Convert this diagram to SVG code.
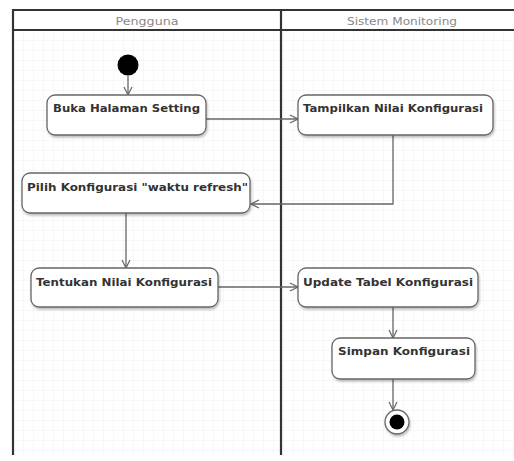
<svg xmlns="http://www.w3.org/2000/svg" width="514" height="461" viewBox="0 0 514 461">
  <defs>
    <pattern id="grid" width="10" height="10" patternUnits="userSpaceOnUse" x="3" y="0">
      <path d="M10 0 L0 0 0 10" fill="none" stroke="#efefef" stroke-width="1"/>
    </pattern>
    <marker id="open" markerWidth="10" markerHeight="10" refX="9" refY="5" orient="auto" markerUnits="userSpaceOnUse">
      <path d="M1 1 L9 5 L1 9" fill="none" stroke="#666" stroke-width="1.2"/>
    </marker>
    <filter id="shadow" x="-10%" y="-10%" width="120%" height="130%">
      <feDropShadow dx="1" dy="2" stdDeviation="1.2" flood-color="#000" flood-opacity="0.25"/>
    </filter>
  </defs>
  <style>
    .lane { fill: none; stroke: #333; stroke-width: 2.2; }
    .hdr { font-family: "DejaVu Sans", "Liberation Sans", sans-serif; font-size: 11px; fill: #888; text-anchor: middle; }
    .act rect { fill: #fff; stroke: #666; stroke-width: 1.3; filter: url(#shadow); }
    .act text { font-family: "DejaVu Sans", "Liberation Sans", sans-serif; font-size: 11px; font-weight: bold; fill: #333; text-anchor: middle; }
    .edge { fill: none; stroke: #666; stroke-width: 1.3; marker-end: url(#open); }
  </style>

  <rect width="514" height="461" fill="#fff"/>
  <rect x="13" y="30" width="501" height="425" fill="url(#grid)"/>

  <!-- swimlanes -->
  <g id="lanes">
    <path class="lane" d="M514 10 H13 V455"/>
    <path class="lane" d="M13 30 H514"/>
    <path class="lane" d="M281 10 V455"/>
    <text class="hdr" x="147" y="25" textLength="63" lengthAdjust="spacingAndGlyphs">Pengguna</text>
    <text class="hdr" x="402" y="25" textLength="110" lengthAdjust="spacingAndGlyphs">Sistem Monitoring</text>
  </g>

  <!-- connectors -->
  <g id="connectors">
    <path class="edge" d="M128 76 V95"/>
    <path class="edge" d="M206 119 H298"/>
    <path class="edge" d="M393 135 V204 H251"/>
    <path class="edge" d="M126 213 V268"/>
    <path class="edge" d="M218 287 H298"/>
    <path class="edge" d="M393 307 V338"/>
    <path class="edge" d="M393 379 V410"/>
  </g>

  <g id="start">
    <circle cx="128" cy="65" r="10.5" fill="#000"/>
  </g>

  <g id="buka" class="act">
    <rect x="47" y="95" width="159" height="40" rx="8"/>
    <text x="126.5" y="112" textLength="147" lengthAdjust="spacingAndGlyphs">Buka Halaman Setting</text>
  </g>

  <g id="tampilkan" class="act">
    <rect x="298" y="95" width="195" height="40" rx="8"/>
    <text x="393" y="112" textLength="180" lengthAdjust="spacingAndGlyphs">Tampilkan Nilai Konfigurasi</text>
  </g>

  <g id="pilih" class="act">
    <rect x="22" y="173" width="228" height="40" rx="8"/>
    <text x="137.5" y="191" textLength="221" lengthAdjust="spacingAndGlyphs">Pilih Konfigurasi "waktu refresh"</text>
  </g>

  <g id="tentukan" class="act">
    <rect x="31" y="268" width="187" height="39" rx="8"/>
    <text x="124" y="286" textLength="176" lengthAdjust="spacingAndGlyphs">Tentukan Nilai Konfigurasi</text>
  </g>

  <g id="update" class="act">
    <rect x="298" y="268" width="180" height="39" rx="8"/>
    <text x="388" y="286" textLength="170" lengthAdjust="spacingAndGlyphs">Update Tabel Konfigurasi</text>
  </g>

  <g id="simpan" class="act">
    <rect x="332" y="338" width="143" height="41" rx="8"/>
    <text x="404" y="355" textLength="132" lengthAdjust="spacingAndGlyphs">Simpan Konfigurasi</text>
  </g>

  <g id="end">
    <circle cx="397" cy="422" r="12" fill="#fff" stroke="#666" stroke-width="1.3" filter="url(#shadow)"/>
    <circle cx="397" cy="422" r="7.5" fill="#000"/>
  </g>
</svg>
